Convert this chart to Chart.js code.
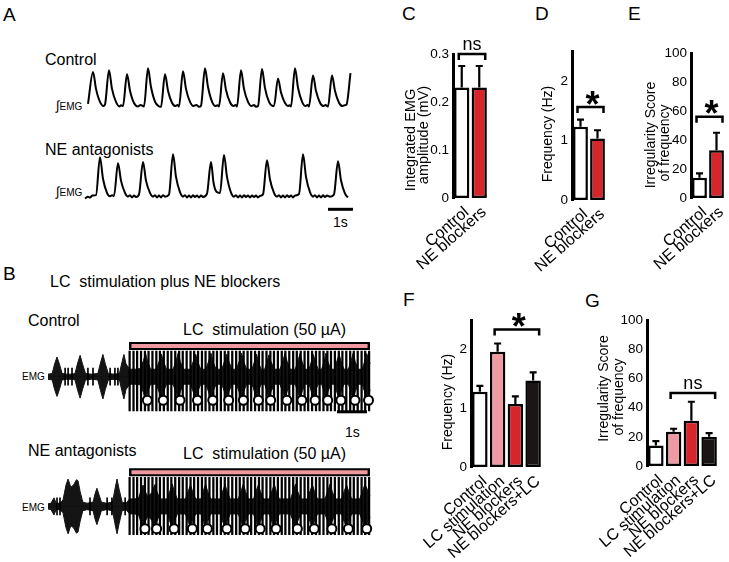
<!DOCTYPE html>
<html><head><meta charset="utf-8">
<script src="https://cdn.jsdelivr.net/npm/chart.js@4.4.1/dist/chart.umd.min.js"></script>
<style>
html,body{margin:0;padding:0;background:#fff}
body{width:729px;height:562px;position:relative;overflow:hidden;font-family:'Liberation Sans',Arial,sans-serif;color:#000}
canvas{position:absolute}
.t{position:absolute;white-space:pre;line-height:1}
.i{font-size:13px}
</style></head><body>
<div class="t" style="left:3px;top:5px;font-size:19px">A</div>
<div class="t" style="left:3px;top:264px;font-size:19px">B</div>
<div class="t" style="left:402px;top:4px;font-size:19px">C</div>
<div class="t" style="left:535px;top:4px;font-size:19px">D</div>
<div class="t" style="left:628px;top:4px;font-size:19px">E</div>
<div class="t" style="left:403px;top:290px;font-size:19px">F</div>
<div class="t" style="left:585px;top:291px;font-size:19px">G</div>

<div class="t" style="left:45px;top:52px;font-size:16px">Control</div>
<div class="t" style="left:45px;top:142px;font-size:16px">NE antagonists</div>
<div class="t" style="left:56px;top:99px;font-size:10px"><span class="i">∫</span>EMG</div>
<div class="t" style="left:56px;top:185px;font-size:10px"><span class="i">∫</span>EMG</div>
<div class="t" style="left:333px;top:215px;font-size:14px">1s</div>

<div class="t" style="left:50px;top:274px;font-size:16px">LC  stimulation plus NE blockers</div>
<div class="t" style="left:28px;top:313px;font-size:16px">Control</div>
<div class="t" style="left:183px;top:322px;font-size:16px">LC  stimulation (50 µA)</div>
<div class="t" style="left:22px;top:372px;font-size:10px">EMG</div>
<div class="t" style="left:345px;top:425px;font-size:14px">1s</div>
<div class="t" style="left:28px;top:443px;font-size:16px">NE antagonists</div>
<div class="t" style="left:183px;top:446px;font-size:16px">LC  stimulation (50 µA)</div>
<div class="t" style="left:22px;top:503px;font-size:10px">EMG</div>

<canvas id="a1"></canvas><canvas id="a2"></canvas>
<canvas id="b1"></canvas><canvas id="b2"></canvas>
<canvas id="cC"></canvas><canvas id="cD"></canvas><canvas id="cE"></canvas>
<canvas id="cF"></canvas><canvas id="cG"></canvas>
<script>
// ---------------- DATA ----------------
// Panel A: integrated EMG traces, [time (s), amplitude (a.u.)]
const aControlTrace = [[0,0.1],[0.2,0.95],[0.32,0.5],[0.48,0.15],[0.62,0.04],[0.68,0.08],
 [0.84,1.0],[0.96,0.5],[1.12,0.15],[1.26,0.03],[1.32,0.06],[1.4,0.04],
 [1.56,0.89],[1.68,0.45],[1.84,0.12],[2.0,0.03],[2.1,0.07],[2.24,0.03],
 [2.4,1.05],[2.52,0.55],[2.68,0.16],[2.82,0.04],[2.92,0.02],
 [3.08,0.89],[3.2,0.45],[3.36,0.13],[3.5,0.04],[3.58,0.07],[3.64,0.03],
 [3.8,0.97],[3.92,0.5],[4.08,0.15],[4.22,0.04],[4.34,0.07],[4.44,0.02],[4.52,0.05],
 [4.68,1.05],[4.8,0.55],[4.96,0.16],[5.1,0.04],[5.18,0.06],[5.24,0.03],
 [5.4,0.92],[5.52,0.47],[5.68,0.14],[5.82,0.04],[5.9,0.07],[5.96,0.03],
 [6.12,1.0],[6.24,0.5],[6.4,0.15],[6.54,0.04],[6.64,0.07],[6.72,0.02],[6.8,0.04],
 [6.96,1.03],[7.08,0.52],[7.24,0.15],[7.36,0.05],[7.44,0.04],
 [7.6,0.78],[7.72,0.4],[7.88,0.12],[8.0,0.04],[8.06,0.06],[8.12,0.03],
 [8.28,1.05],[8.4,0.53],[8.56,0.16],[8.7,0.04],[8.78,0.07],[8.84,0.03],
 [9.0,0.86],[9.12,0.44],[9.28,0.13],[9.42,0.04],[9.5,0.07],[9.6,0.03],
 [9.76,0.86],[9.88,0.44],[10.04,0.13],[10.18,0.04],[10.26,0.06],[10.34,0.08],
 [10.5,0.92]];
const aNeTrace = [[0,-0.03],[0.12,0.02],[0.2,0.0],[0.3,0.05],[0.44,0.06],
 [0.6,1.08],[0.72,0.5],[0.88,0.12],[1.0,0.03],[1.08,0.06],[1.16,0.04],
 [1.32,0.92],[1.44,0.45],[1.6,0.12],[1.72,0.02],[1.8,0.06],[1.88,0.0],[1.96,0.05],[2.04,0.01],[2.16,0.08],
 [2.32,0.95],[2.44,0.45],[2.6,0.12],[2.72,0.02],[2.8,0.06],[2.88,0.0],[2.96,0.05],[3.04,0.0],[3.12,0.06],[3.2,0.02],[3.36,0.08],
 [3.52,1.16],[3.64,0.55],[3.8,0.14],[3.92,0.02],[4.0,0.06],[4.08,0.0],[4.16,0.05],[4.24,0.0],[4.32,0.06],[4.4,0.01],[4.48,0.05],[4.56,0.0],[4.64,0.05],[4.72,0.01],[4.88,0.1],
 [5.04,0.95],[5.14,0.4],[5.26,0.15],[5.4,0.12],
 [5.56,1.14],[5.68,0.55],[5.84,0.13],[5.96,0.02],[6.04,0.06],[6.12,0.0],[6.2,0.05],[6.28,0.0],[6.36,0.06],[6.44,0.01],[6.52,0.05],[6.6,0.0],[6.68,0.05],[6.76,0.01],[6.84,0.05],[6.92,0.0],[7.0,0.04],[7.12,0.08],
 [7.28,1.0],[7.4,0.48],[7.56,0.12],[7.68,0.02],[7.76,0.06],[7.84,0.0],[7.92,0.05],[8.0,0.0],[8.08,0.06],[8.16,0.01],[8.24,0.05],[8.32,0.0],[8.4,0.05],[8.56,0.09],
 [8.72,1.16],[8.84,0.55],[9.0,0.14],[9.12,0.02],[9.2,0.06],[9.28,0.0],[9.36,0.05],[9.44,0.0],[9.52,0.06],[9.6,0.01],[9.68,0.05],[9.8,0.02],[9.96,0.08],
 [10.12,0.97],[10.24,0.46],[10.4,0.1],[10.52,0.0]];
const aScaleBar = [9.72, 10.72];          // 1 s

// Panel B: raw EMG burst envelope [time (s), half-amplitude], stimulus pulses, marked bursts
const bControlEnv = [[0,0.12],[0.14,0.15],[0.22,0.6],[0.3,0.92],[0.38,0.6],[0.47,0.15],[0.62,0.12],[0.8,0.12],
 [0.9,0.15],[0.99,0.65],[1.07,1.0],[1.15,0.6],[1.25,0.15],[1.45,0.12],
 [1.66,0.15],[1.75,0.65],[1.83,1.04],[1.91,0.6],[2.01,0.15],[2.2,0.12],
 [2.38,0.15],[2.46,0.65],[2.53,1.04],[2.6,0.6],[2.72,0.35],
 [2.9,0.35],[3.08,0.38],[3.18,0.75],[3.25,1.1],[3.32,0.7],[3.42,0.35],
 [3.61,0.35],[3.71,0.75],[3.78,1.05],[3.85,0.7],[3.95,0.35],
 [4.17,0.35],[4.27,0.75],[4.34,1.12],[4.41,0.7],[4.51,0.35],
 [4.75,0.35],[4.85,0.75],[4.92,1.06],[4.99,0.7],[5.09,0.35],
 [5.26,0.35],[5.36,0.75],[5.43,1.1],[5.5,0.7],[5.6,0.35],
 [5.79,0.35],[5.89,0.75],[5.96,1.05],[6.03,0.7],[6.13,0.35],
 [6.28,0.35],[6.38,0.75],[6.45,1.1],[6.52,0.7],[6.62,0.35],
 [6.8,0.35],[6.89,0.75],[6.95,1.06],[7.01,0.7],[7.1,0.35],
 [7.22,0.35],[7.3,0.7],[7.36,1.02],[7.43,0.7],[7.55,0.35],
 [7.73,0.35],[7.83,0.75],[7.9,1.1],[7.97,0.7],[8.07,0.35],
 [8.24,0.35],[8.33,0.75],[8.4,1.08],[8.47,0.7],[8.56,0.35],
 [8.7,0.35],[8.78,0.72],[8.84,1.04],[8.91,0.7],[9.0,0.35],
 [9.12,0.35],[9.2,0.72],[9.26,1.1],[9.33,0.7],[9.42,0.35],
 [9.55,0.35],[9.63,0.75],[9.7,1.06],[9.77,0.7],[9.86,0.35],
 [10.01,0.35],[10.1,0.75],[10.17,1.1],[10.24,0.7],[10.33,0.35],
 [10.47,0.35],[10.56,0.75],[10.62,1.08],[10.7,0.8],[10.73,0.6]];
const bNeEnv = [[0,0.12],[0.1,0.15],[0.2,0.4],[0.27,0.15],[0.4,0.15],
 [0.5,0.3],[0.6,1.0],[0.67,1.28],[0.76,0.9],[0.85,1.0],[0.95,1.25],[1.0,1.2],[1.07,0.7],[1.16,0.2],[1.3,0.15],
 [1.5,0.2],[1.57,0.6],[1.63,0.85],[1.7,0.55],[1.78,0.2],[1.95,0.15],
 [2.15,0.2],[2.23,0.8],[2.3,1.28],[2.37,0.8],[2.47,0.2],[2.6,0.15],[2.72,0.35],
 [2.88,0.35],[3.02,0.4],[3.1,0.75],[3.17,1.0],[3.24,0.7],[3.33,0.45],
 [3.46,0.65],[3.56,1.02],[3.63,0.7],[3.73,0.35],
 [3.97,0.35],[4.07,0.75],[4.14,1.05],[4.21,0.7],[4.31,0.35],
 [4.58,0.35],[4.68,0.75],[4.75,1.0],[4.82,0.7],[4.92,0.35],
 [5.1,0.35],[5.18,0.75],[5.25,1.04],[5.32,0.7],[5.42,0.35],
 [5.73,0.35],[5.83,0.75],[5.9,1.02],[5.97,0.7],[6.07,0.35],
 [6.34,0.35],[6.44,0.75],[6.51,1.05],[6.58,0.7],[6.68,0.35],
 [6.85,0.35],[6.94,0.75],[7.01,1.0],[7.08,0.7],[7.18,0.35],
 [7.37,0.35],[7.47,0.75],[7.54,1.04],[7.61,0.7],[7.71,0.35],
 [8.08,0.35],[8.18,0.75],[8.25,1.05],[8.32,0.7],[8.42,0.35],
 [8.64,0.35],[8.74,0.75],[8.81,1.02],[8.88,0.7],[8.98,0.35],
 [9.23,0.35],[9.33,0.75],[9.4,1.05],[9.47,0.7],[9.57,0.35],
 [9.78,0.35],[9.88,0.75],[9.95,1.0],[10.02,0.7],[10.12,0.35],
 [10.39,0.35],[10.49,0.75],[10.56,1.04],[10.64,0.8],[10.73,0.5]];
const bStimPulses = [2.72,2.85,2.97,3.10,3.23,3.35,3.48,3.61,3.73,3.86,3.99,4.11,4.24,4.37,4.49,4.62,
 4.75,4.87,5.00,5.13,5.25,5.38,5.51,5.63,5.76,5.89,6.01,6.14,6.27,6.39,6.52,6.65,6.77,6.90,7.03,7.15,
 7.28,7.41,7.53,7.66,7.79,7.91,8.04,8.17,8.29,8.42,8.55,8.67,8.80,8.93,9.05,9.18,9.31,9.43,9.56,9.69,
 9.81,9.94,10.07,10.19,10.32,10.45,10.57,10.70];
const bControlSpikes = [0.57,0.67,0.8,1.33,1.5,2.07,2.23,2.33];
const bNeSpikes = [0.3,0.4,1.4,1.97,2.13,2.57];
const bControlBursts = [3.31,3.84,4.40,4.98,5.49,6.02,6.51,7.01,7.42,7.96,8.46,8.90,9.32,9.76,10.23,10.68];
const bNeBursts = [3.23,3.62,4.20,4.81,5.31,5.96,6.57,7.07,7.60,8.31,8.87,9.46,10.01,10.62];
const bStimPeriod = [2.7, 10.73];
const bScaleBar = [9.63, 10.63];           // 1 s

// Panels C-G: bar values and SEM
const twoCats = ['Control', 'NE blockers'];
const fourCats = ['Control', 'LC stimulation', 'NE blockers', 'NE blockers+LC'];
const cValues = [0.23, 0.23];   const cErrors = [0.045, 0.045];
const dValues = [1.23, 1.03];   const dErrors = [0.12, 0.14];
const eValues = [14, 33];       const eErrors = [3, 12];
const fValues = [1.28, 1.96, 1.07, 1.47]; const fErrors = [0.10, 0.14, 0.13, 0.14];
const gValues = [14, 23.5, 31, 20];       const gErrors = [3, 2, 13, 2.5];
const cSig = {from:0, to:1, value:0.3, label:'ns'};
const dSig = {from:0, to:1, value:1.56, label:'*'};
const eSig = {from:0, to:1, value:56, label:'*'};
const fSig = {from:1, to:3, value:2.34, label:'*'};
const gSig = {from:1, to:3, value:50, label:'ns'};

// ---------------- DRAWING ----------------
const FONT = "'Liberation Sans', Arial, sans-serif";
Chart.defaults.font.family = FONT;
Chart.defaults.color = '#000';

function place(c, b) {
  c.width = b.width; c.height = b.height;
  c.style.left = b.left + 'px'; c.style.top = b.top + 'px';
  c.style.width = b.width + 'px'; c.style.height = b.height + 'px';
}
const pts = arr => arr.map(([x, y]) => ({x, y}));
const neg = arr => arr.map(([x, y]) => ({x, y: -y}));

function traceChart(id, box, xMax, yMin, yMax, datasets) {
  const c = document.getElementById(id); place(c, box);
  return new Chart(c, {
    type: 'line', data: {datasets},
    options: {
      responsive: false, animation: false, events: [],
      layout: {padding: box.pad},
      plugins: {legend: {display: false}, tooltip: {enabled: false}},
      elements: {point: {radius: 0}},
      scales: {
        x: {type: 'linear', min: 0, max: xMax, display: false, offset: false},
        y: {type: 'linear', min: yMin, max: yMax, display: false}
      }
    }
  });
}
const lineDS = (data, w, extra) => Object.assign({data, borderColor: '#000', borderWidth: w, pointRadius: 0,
  fill: false, tension: 0, clip: false}, extra || {});

// Panel A
traceChart('a1', {left: 83, top: 55, width: 273, height: 64, pad: {left: 5, right: 5, top: 4, bottom: 4}}, 10.52, -0.2, 1.3, [
  lineDS(pts(aControlTrace), 2, {cubicInterpolationMode: 'monotone', borderJoinStyle: 'round'})
]);
traceChart('a2', {left: 80, top: 145, width: 280, height: 75, pad: {left: 5, right: 5, top: 4, bottom: 4}}, 10.8, -0.5, 1.3, [
  lineDS(pts(aNeTrace), 2, {cubicInterpolationMode: 'monotone', borderJoinStyle: 'round'}),
  lineDS(aScaleBar.map(x => ({x, y: -0.32})), 3)
]);

// Panel B
function bDatasets(env, spikes, bursts, artLo, artHi, circleY, barY, withScale) {
  const ds = [
    lineDS(pts(env), 1, {fill: 'origin', backgroundColor: '#141414', borderColor: '#141414', order: 5}),
    lineDS(neg(env), 1, {fill: 'origin', backgroundColor: '#141414', borderColor: '#141414', order: 5}),
    lineDS([{x: 0, y: 0}, {x: 10.73, y: 0}], 1.5, {order: 6}),
    {type: 'bar', data: bStimPulses.map(x => ({x, y: [artLo, artHi]})), backgroundColor: '#000',
      barThickness: 1.6, grouped: false, order: 3, clip: false},
    {type: 'bar', data: spikes.map(x => ({x, y: [-0.4, 0.4]})), backgroundColor: '#000',
      barThickness: 1, grouped: false, order: 4},
    lineDS(bStimPeriod.map(x => ({x, y: barY})), 8, {borderCapStyle: 'butt', order: 2}),
    lineDS([{x: bStimPeriod[0] + 0.08, y: barY}, {x: bStimPeriod[1] - 0.08, y: barY}], 4,
      {borderColor: '#ee98a0', borderCapStyle: 'butt', order: 1}),
    {type: 'line', data: bursts.map(x => ({x, y: circleY})), showLine: false, pointRadius: 4.5,
      pointBackgroundColor: '#fff', pointBorderColor: '#000', pointBorderWidth: 2, order: 0, clip: false}
  ];
  if (withScale) ds.push(lineDS(bScaleBar.map(x => ({x, y: -1.64})), 3, {order: 0}));
  return ds;
}
traceChart('b1', {left: 40, top: 330, width: 338, height: 90, pad: {left: 8, right: 8, top: 0, bottom: 0}}, 10.73, -1.72, 1.88,
  bDatasets(bControlEnv, bControlSpikes, bControlBursts, -1.6, 1.2, -1.1, 1.44, true));
traceChart('b2', {left: 40, top: 458, width: 338, height: 90, pad: {left: 8, right: 8, top: 0, bottom: 0}}, 10.73, -1.64, 1.96,
  bDatasets(bNeEnv, bNeSpikes, bNeBursts, -1.32, 1.36, -1.04, 1.6, false));

// Bar panels
const errPlugin = {
  id: 'errBars',
  afterDatasetsDraw(chart, args, o) {
    const meta = chart.getDatasetMeta(0), y = chart.scales.y, ctx = chart.ctx;
    const vals = chart.data.datasets[0].data;
    ctx.save(); ctx.strokeStyle = '#000'; ctx.lineWidth = 2.2;
    meta.data.forEach((bar, i) => {
      const top = y.getPixelForValue(vals[i] + o.errs[i]);
      ctx.beginPath();
      ctx.moveTo(bar.x, bar.y); ctx.lineTo(bar.x, top);
      ctx.moveTo(bar.x - 3.5, top); ctx.lineTo(bar.x + 3.5, top);
      ctx.stroke();
    });
    ctx.restore();
  }
};
const sigPlugin = {
  id: 'sig',
  afterDraw(chart, args, o) {
    const meta = chart.getDatasetMeta(0), y = chart.scales.y, ctx = chart.ctx;
    const xl = meta.data[o.from].x - 3, xr = meta.data[o.to].x + 6, yy = y.getPixelForValue(o.value);
    ctx.save(); ctx.strokeStyle = '#000'; ctx.lineWidth = 2.5; ctx.lineJoin = 'miter';
    ctx.beginPath(); ctx.moveTo(xl, yy + 6); ctx.lineTo(xl, yy); ctx.lineTo(xr, yy); ctx.lineTo(xr, yy + 6); ctx.stroke();
    const star = o.label === '*';
    ctx.font = star ? `bold 36px ${FONT}` : `18px ${FONT}`;
    ctx.fillStyle = '#000'; ctx.textAlign = 'center'; ctx.textBaseline = 'alphabetic';
    const m = ctx.measureText(o.label);
    const cy = yy - 9.5;
    ctx.fillText(o.label, (xl + xr) / 2 + (star ? 2 : 0), cy + (m.actualBoundingBoxAscent - m.actualBoundingBoxDescent) / 2);
    ctx.restore();
  }
};
const yTitlePlugin = {
  id: 'ytitle',
  afterDraw(chart, args, o) {
    const ctx = chart.ctx;
    ctx.save(); ctx.font = `${o.size}px ${FONT}`; ctx.fillStyle = '#000';
    ctx.textAlign = 'center'; ctx.textBaseline = 'middle';
    o.lines.forEach(l => {
      ctx.save(); ctx.translate(l.x - o.ox, l.y - o.oy); ctx.rotate(-Math.PI / 2);
      ctx.fillText(l.text, 0, 0); ctx.restore();
    });
    ctx.restore();
  }
};

function barChart(id, b, cats, vals, errs, colors, yMax, yStep, titleSize, titleLines, sig) {
  const c = document.getElementById(id); place(c, b);
  return new Chart(c, {
    type: 'bar',
    data: {labels: cats, datasets: [{data: vals, backgroundColor: colors, borderColor: '#000', borderWidth: 2.5,
      borderSkipped: false, barPercentage: 0.87, categoryPercentage: 1}]},
    options: {
      responsive: false, animation: false, events: [],
      layout: {padding: {left: 0, top: b.aT - b.top, right: b.left + b.width - b.aR, bottom: 0}},
      plugins: {legend: {display: false}, tooltip: {enabled: false},
        errBars: {errs}, sig,
        ytitle: {size: titleSize, lines: titleLines, ox: b.left, oy: b.top}},
      scales: {
        x: {grid: {display: false, drawTicks: false}, border: {display: false},
          ticks: {autoSkip: false, minRotation: 41, maxRotation: 41, padding: 5, labelOffset: 5,
            font: {size: 16}, color: '#000'},
          afterFit(s) { s.height = b.top + b.height - b.aB; s.paddingLeft = 0; s.paddingRight = 0; }},
        y: {min: 0, max: yMax, grid: {display: false, drawTicks: false},
          border: {display: true, color: '#000', width: 3},
          ticks: {stepSize: yStep, padding: 4, font: {size: 13.5}, color: '#000',
            callback: v => Math.abs(v / yStep - Math.round(v / yStep)) < 1e-6 ? String(Math.round(v * 1000) / 1000) : ''},
          afterFit(s) { s.width = b.aL - b.left; s.paddingTop = 0; s.paddingBottom = 0; }}
      }
    },
    plugins: [errPlugin, sigPlugin, yTitlePlugin]
  });
}
const W = '#ffffff', R = '#d7262b', P = '#ee9aa2', K = '#1a1616';
barChart('cC', {left: 395, top: 30, width: 100, height: 245, aL: 453, aR: 488, aT: 54, aB: 198},
  twoCats, cValues, cErrors, [W, R], 0.3, 0.1, 14.5,
  [{text: 'Integrated EMG', x: 410.5, y: 140}, {text: 'amplitude (mV)', x: 423.5, y: 135}], cSig);
barChart('cD', {left: 525, top: 30, width: 85, height: 245, aL: 572, aR: 606, aT: 51, aB: 200},
  twoCats, dValues, dErrors, [W, R], 2.5, 1, 14,
  [{text: 'Frequency (Hz)', x: 548, y: 134}], dSig);
barChart('cE', {left: 637, top: 30, width: 92, height: 245, aL: 691, aR: 725, aT: 53, aB: 198},
  twoCats, eValues, eErrors, [W, R], 100, 20, 14,
  [{text: 'Irregularity Score', x: 651.5, y: 135}, {text: 'of frequency', x: 665.5, y: 143}], eSig);
barChart('cF', {left: 405, top: 300, width: 145, height: 262, aL: 471, aR: 542, aT: 320, aB: 467},
  fourCats, fValues, fErrors, [W, P, R, K], 2.5, 1, 14,
  [{text: 'Frequency (Hz)', x: 448, y: 402}], fSig);
barChart('cG', {left: 580, top: 300, width: 149, height: 262, aL: 647, aR: 718, aT: 320, aB: 466},
  fourCats, gValues, gErrors, [W, P, R, K], 100, 20, 14,
  [{text: 'Irregularity Score', x: 604, y: 388.5}, {text: 'of frequency', x: 619, y: 397}], gSig);
</script>
</body></html>
